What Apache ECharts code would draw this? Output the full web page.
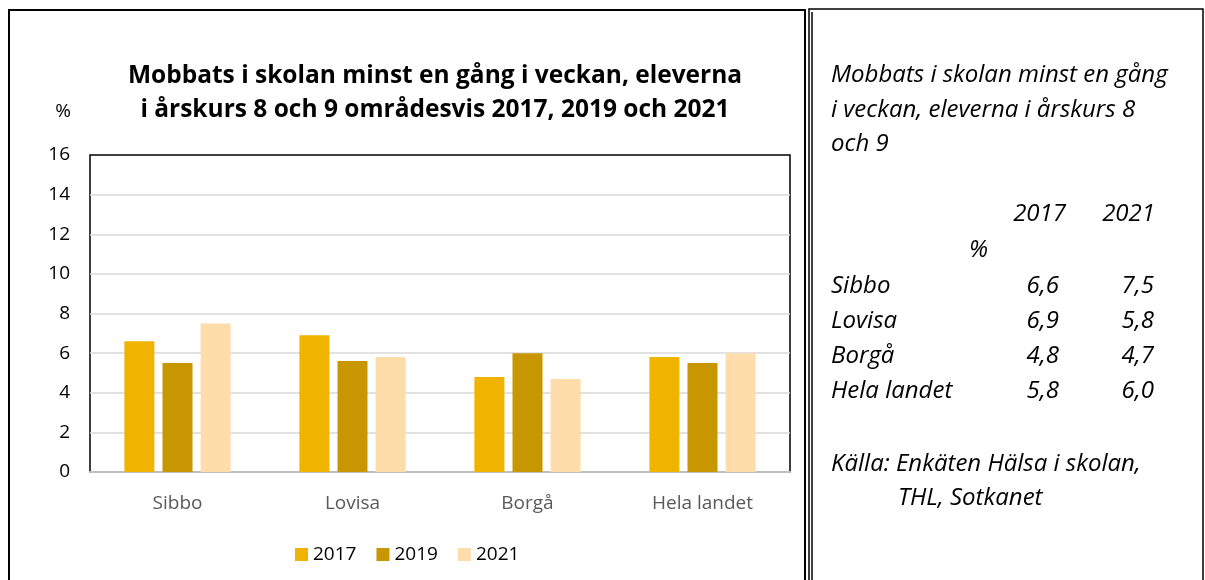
<!DOCTYPE html>
<html>
<head>
<meta charset="utf-8">
<script src="https://cdn.jsdelivr.net/npm/echarts@6/dist/echarts.min.js"></script>
<style>
  html, body { margin: 0; padding: 0; background: #fff; }
  #main { width: 1205px; height: 580px; }
</style>
</head>
<body>
<div id="main"></div>
<script>
// data
var areas = ['Sibbo', 'Lovisa', 'Borgå', 'Hela landet'];
var years = ['2017', '2019', '2021'];
var v2017 = [6.6, 6.9, 4.8, 5.8];
var v2019 = [5.5, 5.6, 6.0, 5.5];
var v2021 = [7.5, 5.8, 4.7, 6.0];
var yTicks = { min: 0, max: 16, interval: 2 };

var colors = ['#F0B400', '#C89600', '#FFDDAA'];
var font = 'Open Sans';

function fmt(v) {
    return v.toFixed(1).replace('.', ',');
}

// right side text box
var side = [];
var sideStyle = { fontFamily: font, fontStyle: 'italic', fontSize: 24, fill: '#000' };
function txt(x, y, s, align) {
    side.push({
        type: 'text', x: x, y: y,
        style: Object.assign({ text: s, textAlign: align || 'left', textVerticalAlign: 'middle' }, sideStyle)
    });
}
txt(831, 75, 'Mobbats i skolan minst en gång');
txt(831, 110, 'i veckan, eleverna i årskurs 8');
txt(831, 144, 'och 9');
txt(1066, 214, years[0], 'right');
txt(1155, 214, years[2], 'right');
txt(988, 250, '%', 'right');
for (var i = 0; i < areas.length; i++) {
    var y = 286 + i * 35;
    txt(831, y, areas[i]);
    txt(1059, y, fmt(v2017[i]), 'right');
    txt(1154, y, fmt(v2021[i]), 'right');
}
txt(831, 464, 'Källa: Enkäten Hälsa i skolan,');
txt(898, 498, 'THL, Sotkanet');

// frames
var frames = [
    { type: 'rect', shape: { x: 9, y: 10, width: 796, height: 600 }, style: { fill: 'none', stroke: '#000', lineWidth: 2 } },
    { type: 'polyline', shape: { points: [[809, 600], [809, 9], [1203, 9], [1203, 600]] }, style: { fill: 'none', stroke: '#000', lineWidth: 1.5 } },
    { type: 'line', shape: { x1: 812, y1: 12, x2: 812, y2: 600 }, style: { stroke: '#000', lineWidth: 1.5 } },
    { type: 'text', x: 63, y: 112, style: { text: '%', fontFamily: font, fontSize: 19, fill: '#000', textAlign: 'center', textVerticalAlign: 'middle' } }
];

var chart = echarts.init(document.getElementById('main'));
var option = {
    animation: false,
    textStyle: { fontFamily: font },
    color: colors,
    title: {
        text: 'Mobbats i skolan minst en gång i veckan, eleverna\ni årskurs 8 och 9 områdesvis 2017, 2019 och 2021',
        left: 430,
        textAlign: 'center',
        top: 54,
        textStyle: { fontFamily: font, fontSize: 24.5, fontWeight: 'bold', color: '#000', lineHeight: 34 }
    },
    grid: {
        left: 90, right: 415, top: 155, bottom: 108,
        show: true, borderColor: '#000', borderWidth: 1.5, backgroundColor: '#fff'
    },
    legend: {
        data: years,
        left: 290, top: 540,
        itemWidth: 13, itemHeight: 13, itemGap: 20,
        textStyle: { fontSize: 19, color: '#000' },
        icon: 'rect'
    },
    xAxis: {
        type: 'category',
        data: areas,
        axisLine: { lineStyle: { color: '#bfbfbf', width: 2 } },
        axisTick: { show: false },
        axisLabel: { fontSize: 19, color: '#595959', margin: 22 }
    },
    yAxis: {
        type: 'value',
        min: yTicks.min, max: yTicks.max, interval: yTicks.interval,
        axisLine: { show: false },
        axisTick: { show: false },
        axisLabel: { fontSize: 19, color: '#000', margin: 20 },
        splitLine: { showMaxLine: false, showMinLine: false, lineStyle: { color: '#d9d9d9', width: 1.5 } }
    },
    series: [
        { name: years[0], type: 'bar', data: v2017, barWidth: 30, barGap: '27%' },
        { name: years[1], type: 'bar', data: v2019, barWidth: 30, barGap: '27%' },
        { name: years[2], type: 'bar', data: v2021, barWidth: 30, barGap: '27%' }
    ],
    graphic: frames.concat(side)
};
chart.setOption(option);
</script>
</body>
</html>
